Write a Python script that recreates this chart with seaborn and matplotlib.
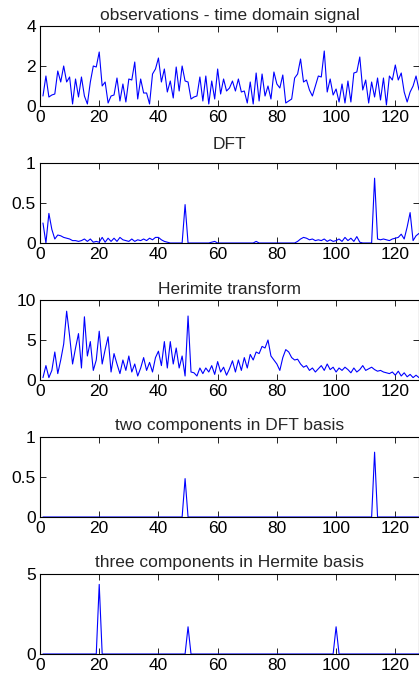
import matplotlib
matplotlib.use("Agg")
import matplotlib.pyplot as plt
import seaborn as sns
import numpy as np
import pandas as pd
from matplotlib.ticker import FormatStrFormatter

sns.set_style("ticks")
plt.rcParams['font.family'] = ['Liberation Sans', 'DejaVu Sans']

# sample index 1..128
n = np.arange(1, 129)

# observations - time domain signal
signal = [0.5, 1.5, 0.45, 0.55, 0.6, 1.75, 1.2, 2.0, 1.2, 1.45,
          0.1, 1.35, 0.45, 1.45, 0.5, 0.1, 1.2, 2.0, 1.95, 2.7,
          1.0, 1.2, 0.15, 0.5, 0.55, 1.4, 0.25, 1.1, 0.2, 1.35,
          1.3, 2.2, 0.35, 1.35, 0.65, 0.65, 0.1, 1.6, 1.85, 2.4,
          1.2, 1.85, 0.7, 1.25, 0.4, 1.95, 0.75, 2.0, 1.25, 1.2,
          0.35, 0.45, 0.5, 1.45, 0.25, 1.5, 0.1, 1.25, 0.35, 1.85,
          0.6, 1.35, 0.75, 0.9, 1.25, 0.75, 1.35, 0.7, 0.75, 0.15,
          1.2, 0.1, 1.65, 0.25, 1.6, 0.5, 1.0, 0.35, 1.7, 1.1,
          0.9, 1.55, 0.15, 0.25, 0.35, 1.4, 1.6, 2.35, 1.2, 1.3,
          0.8, 0.5, 1.0, 1.5, 1.45, 2.75, 0.7, 1.35, 0.55, 0.85,
          0.2, 1.1, 0.15, 1.25, 0.2, 1.65, 1.7, 2.45, 0.8, 1.3,
          0.15, 1.2, 0.45, 1.4, 0.3, 1.4, 0.05, 1.5, 1.3, 2.05,
          1.3, 1.65, 0.7, 0.2, 0.7, 1.0, 1.5, 0.8]

# DFT magnitude
dft = [0.25, 0.0, 0.37, 0.17, 0.05, 0.1, 0.09, 0.07, 0.06, 0.05,
       0.03, 0.03, 0.02, 0.03, 0.05, 0.02, 0.05, 0.01, 0.02, 0.01,
       0.07, 0.01, 0.06, 0.02, 0.06, 0.02, 0.07, 0.04, 0.03, 0.02,
       0.05, 0.02, 0.04, 0.03, 0.05, 0.03, 0.06, 0.04, 0.07, 0.07,
       0.04, 0.02, 0.01, 0.0, 0.0, 0.0, 0.0, 0.0, 0.48, 0.0,
       0.0, 0.0, 0.0, 0.0, 0.0, 0.0, 0.0, 0.01, 0.02, 0.0,
       0.0, 0.0, 0.0, 0.0, 0.0, 0.0, 0.0, 0.0, 0.0, 0.0,
       0.0, 0.0, 0.02, 0.0, 0.0, 0.0, 0.0, 0.0, 0.0, 0.0,
       0.0, 0.0, 0.0, 0.0, 0.0, 0.0, 0.02, 0.05, 0.07, 0.06,
       0.04, 0.05, 0.03, 0.04, 0.03, 0.05, 0.02, 0.04, 0.02, 0.03,
       0.05, 0.02, 0.07, 0.03, 0.06, 0.02, 0.08, 0.01, 0.0, 0.0,
       0.0, 0.0, 0.81, 0.05, 0.04, 0.05, 0.04, 0.03, 0.05, 0.06,
       0.07, 0.11, 0.05, 0.2, 0.38, 0.03, 0.09, 0.12]

# Herimite transform
hermite = [0.3, 1.8, 0.3, 1.2, 3.5, 0.8, 2.5, 4.5, 8.6, 5.5,
           2.0, 4.0, 5.8, 1.5, 7.9, 3.0, 4.8, 1.2, 2.5, 6.1,
           2.0, 3.8, 5.4, 1.0, 3.3, 2.0, 0.8, 2.5, 1.2, 3.0,
           1.0, 2.0, 0.5, 1.5, 2.8, 1.2, 2.2, 1.0, 2.8, 3.6,
           1.8, 4.8, 1.5, 4.8, 2.0, 4.0, 1.5, 3.0, 0.5, 8.0,
           1.0, 0.9, 0.5, 1.5, 0.8, 1.5, 1.0, 1.8, 0.7, 2.3,
           1.0, 1.6, 0.6, 1.4, 2.4, 1.0, 2.5, 1.2, 2.8, 1.5,
           3.2, 2.5, 3.5, 3.3, 4.2, 4.0, 5.0, 3.0, 2.5, 2.0,
           1.2, 2.8, 3.8, 3.5, 2.8, 2.5, 2.6, 2.0, 1.6, 1.8,
           1.2, 1.5, 1.0, 1.4, 1.8, 1.2, 2.0, 1.3, 1.6, 1.0,
           1.5, 1.2, 1.6, 1.3, 0.9, 1.5, 1.0, 1.3, 1.8, 1.2,
           1.4, 1.6, 1.3, 1.1, 1.2, 1.0, 0.9, 0.8, 1.0, 0.6,
           1.1, 0.5, 0.9, 0.4, 0.7, 0.3, 0.6, 0.3]

# sparse components
dft_idx = [49, 113]
dft_amp = [0.48, 0.81]
herm_idx = [20, 50, 100]
herm_amp = [4.35, 1.7, 1.7]

two_comp = np.zeros(128)
two_comp[np.array(dft_idx) - 1] = dft_amp
three_comp = np.zeros(128)
three_comp[np.array(herm_idx) - 1] = herm_amp

panels = [
    ("observations - time domain signal", signal, (0, 4), [0, 2, 4], 4),
    ("DFT", dft, (0, 1), [0, 0.5, 1], 10),
    ("Herimite transform", hermite, (0, 10), [0, 5, 10], 4),
    ("two components in DFT basis", two_comp, (0, 1), [0, 0.5, 1], 5),
    ("three components in Hermite basis", three_comp, (0, 5), [0, 5], 5),
]

W, H = 419, 679
fig = plt.figure(figsize=(W / 100, H / 100), dpi=100)

for i, (title, vals, ylim, yt, tpad) in enumerate(panels):
    top = 26 + 137 * i
    ax = fig.add_axes([40 / W, 1 - (top + 80) / H, (W - 40) / W, 80 / H])
    df = pd.DataFrame({"n": n, "v": vals})
    sns.lineplot(data=df, x="n", y="v", ax=ax, color="blue", lw=0.8)
    ax.set_xlim(0, 128)
    ax.set_ylim(*ylim)
    ax.set_xticks([0, 20, 40, 60, 80, 100, 120])
    ax.set_yticks(yt)
    ax.yaxis.set_major_formatter(FormatStrFormatter("%g"))
    ax.set_xlabel("")
    ax.set_ylabel("")
    ax.set_title(title, fontsize=12.5, pad=tpad)
    ax.tick_params(direction="in", length=4, width=0.6, top=True, right=True,
                   labelsize=12.5, pad=3, colors="black")
    for s in ax.spines.values():
        s.set_visible(True)
        s.set_color("black")
        s.set_linewidth(0.8)

fig.savefig("out.png", dpi=100)
